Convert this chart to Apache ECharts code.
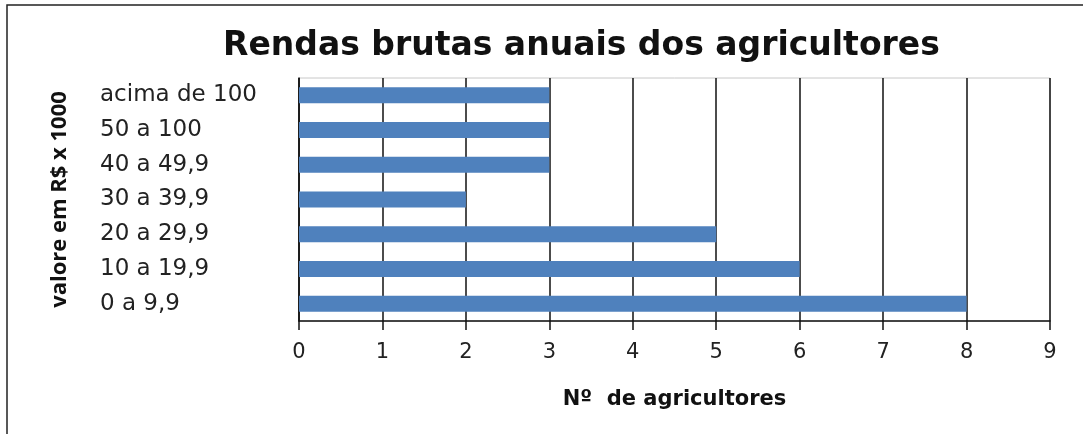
<!DOCTYPE html>
<html>
<head>
<meta charset="utf-8">
<script src="https://cdn.jsdelivr.net/npm/echarts@6/dist/echarts.min.js"></script>
<style>
  html, body { margin: 0; padding: 0; background: #fff; }
  #chart { width: 1083px; height: 434px; }
</style>
</head>
<body>
<div id="chart"></div>
<script>
// faixas de renda (de baixo para cima)
const categories = ['0 a 9,9', '10 a 19,9', '20 a 29,9', '30 a 39,9', '40 a 49,9', '50 a 100', 'acima de 100']
const agricultores = [8, 6, 5, 2, 3, 3, 3]
const xTicks = [0, 1, 2, 3, 4, 5, 6, 7, 8, 9]

const chart = echarts.init(document.getElementById('chart'))

chart.setOption({
  animation: false,
  backgroundColor: '#fff',
  title: {
    text: 'Rendas brutas anuais dos agricultores',
    left: 218,
    top: 25,
    textStyle: {
      fontFamily: 'DejaVu Sans',
      fontWeight: 'bold',
      fontSize: 33,
      color: '#111'
    }
  },
  graphic: [{
    type: 'rect',
    shape: { x: 7, y: 5, width: 1090, height: 440 },
    style: { fill: 'none', stroke: '#222', lineWidth: 1.5 },
    silent: true
  }],
  grid: {
    left: 299,
    right: 33,
    top: 78,
    bottom: 113,
    show: true,
    borderColor: '#c8c8c8',
    borderWidth: 1
  },
  xAxis: {
    type: 'value',
    min: xTicks[0],
    max: xTicks[xTicks.length - 1],
    interval: 1,
    name: 'Nº  de agricultores',
    nameLocation: 'middle',
    nameGap: 68,
    nameTextStyle: {
      fontFamily: 'DejaVu Sans',
      fontWeight: 'bold',
      fontSize: 21,
      color: '#111'
    },
    axisLine: { show: true, lineStyle: { color: '#111', width: 1.5 } },
    axisTick: { show: true, length: 9, lineStyle: { color: '#111', width: 1.5 } },
    axisLabel: {
      margin: 21,
      fontFamily: 'DejaVu Sans',
      fontSize: 21,
      color: '#222'
    },
    splitLine: { show: true, lineStyle: { color: '#111', width: 1.5 } }
  },
  yAxis: {
    type: 'category',
    data: categories,
    name: 'valore em R$ x 1000',
    nameLocation: 'middle',
    nameGap: 228,
    nameRotate: 90,
    nameTextStyle: {
      fontFamily: 'Open Sans',
      fontWeight: 'bold',
      fontSize: 22,
      color: '#111'
    },
    axisLine: { show: true, lineStyle: { color: '#111', width: 1.5 } },
    axisTick: { show: false },
    axisLabel: {
      align: 'left',
      margin: 199,
      fontFamily: 'DejaVu Sans',
      fontSize: 23,
      color: '#222'
    },
    splitLine: { show: false }
  },
  series: [{
    type: 'bar',
    data: agricultores,
    barWidth: '46%',
    itemStyle: { color: '#4f81bd' }
  }]
})

window.addEventListener('resize', () => chart.resize())
</script>
</body>
</html>
